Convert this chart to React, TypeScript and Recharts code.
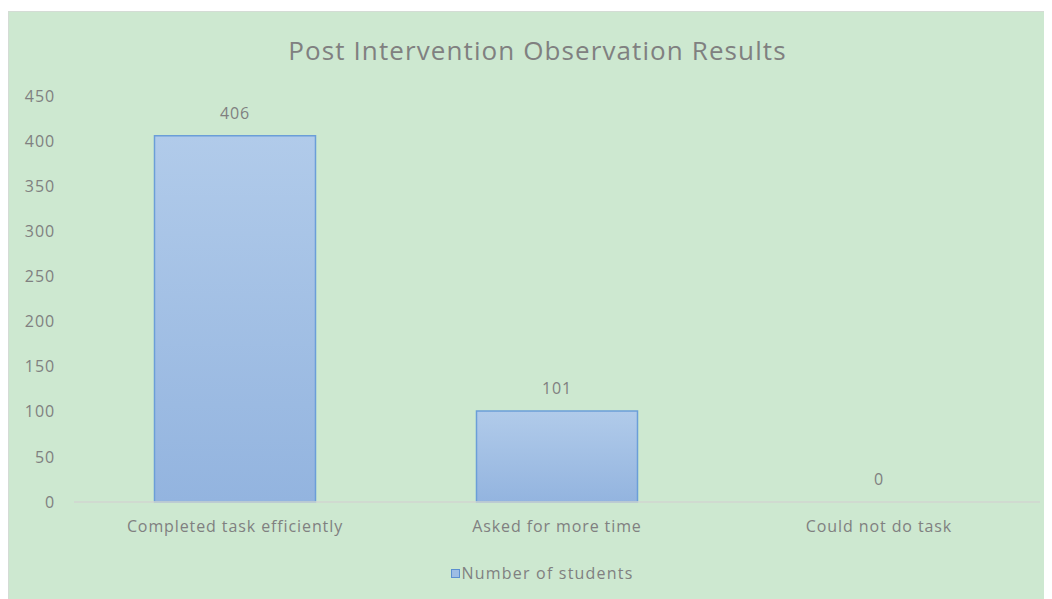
import { BarChart, Bar, XAxis, YAxis, Legend, LabelList, Rectangle } from 'recharts';

const categories = ['Completed task efficiently', 'Asked for more time', 'Could not do task'];
const students = [406, 101, 0];
const yTicks = [0, 50, 100, 150, 200, 250, 300, 350, 400, 450];

const data = categories.map((name, i) => ({ name, students: students[i] }));

const FONT = '"Open Sans", Lato, sans-serif';
const TEXT = '#808080';
const SPACING = 0.9;

function LegendContent(): JSX.Element {
  return (
    <div
      style={{
        height: 22,
        display: 'flex',
        alignItems: 'center',
        justifyContent: 'center',
        fontFamily: FONT,
        fontSize: 16,
        letterSpacing: 1.2,
        color: TEXT,
        paddingLeft: 30,
      }}
    >
      <span
        style={{
          width: 7,
          height: 7,
          background: '#9dbde4',
          border: '1px solid #5b8fd0',
          marginRight: 2,
        }}
      />
      Number of students
    </div>
  );
}

// zero-valued bars get a tiny minPointSize so their label is placed, but draw nothing
function BarShape(props: any): JSX.Element | null {
  if (!props.value) return null;
  return <Rectangle {...props} />;
}

export default function App(): JSX.Element {
  return (
    <div
      style={{
        position: 'relative',
        width: 1044,
        height: 588,
        marginTop: 3,
        background: '#cde8d0',
        borderTop: '1px solid #d4dcd5',
        borderLeft: '1px solid #d4dcd5',
        boxSizing: 'border-box',
      }}
    >
      <style>{'html,body{overflow:hidden}'}</style>
      <div
        style={{
          position: 'absolute',
          top: 20,
          left: 14,
          right: 0,
          textAlign: 'center',
          fontFamily: FONT,
          fontSize: 26,
          color: TEXT,
          letterSpacing: 1.1,
        }}
      >
        Post Intervention Observation Results
      </div>
      <BarChart
        width={1043}
        height={587}
        data={data}
        margin={{ top: 84, right: 12, bottom: 15, left: 5 }}
        barCategoryGap="25%"
      >
        <defs>
          <linearGradient id="barFill" x1="0" y1="0" x2="0" y2="1">
            <stop offset="0%" stopColor="#b1cbea" />
            <stop offset="100%" stopColor="#93b4df" />
          </linearGradient>
        </defs>
        <XAxis
          dataKey="name"
          height={60}
          tickLine={false}
          axisLine={{ stroke: '#d0d6d1', strokeWidth: 1.5 }}
          tickMargin={13}
          tick={{ fill: TEXT, fontSize: 16, fontFamily: FONT, letterSpacing: SPACING }}
        />
        <YAxis
          width={60}
          domain={[0, 450]}
          ticks={yTicks}
          axisLine={false}
          tickLine={false}
          tickMargin={13}
          tick={{ fill: TEXT, fontSize: 16, fontFamily: FONT, letterSpacing: SPACING }}
        />
        <Legend verticalAlign="bottom" height={22} content={<LegendContent />} />
        <Bar
          dataKey="students"
          name="Number of students"
          fill="url(#barFill)"
          stroke="#6b9ed8"
          strokeWidth={1.5}
          minPointSize={0.01}
          shape={<BarShape />}
          isAnimationActive={false}
        >
          <LabelList
            dataKey="students"
            position="top"
            offset={17}
            fill={TEXT}
            fontSize={16}
            fontFamily={FONT}
            letterSpacing={SPACING}
          />
        </Bar>
      </BarChart>
    </div>
  );
}
